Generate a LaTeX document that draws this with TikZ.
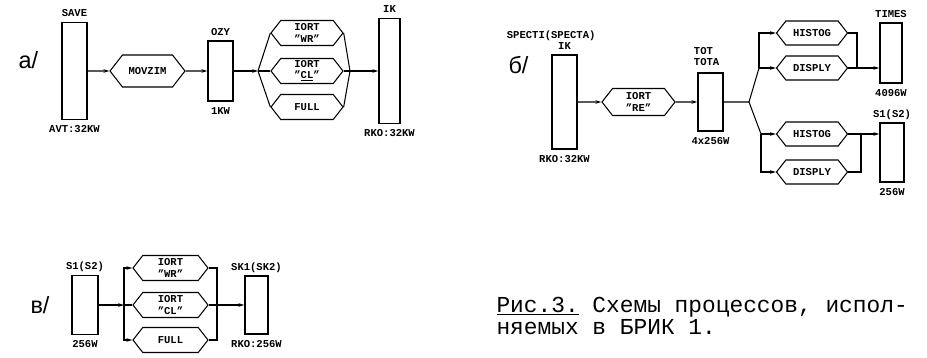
\documentclass[tikz,border=0pt]{standalone}
\usepackage{fontspec}
\setmainfont{Liberation Mono}
\newfontfamily\tagfont{Liberation Sans}
\newcommand\blkfont{\bfseries\fontsize{9}{9.5}\selectfont}
\usetikzlibrary{arrows.meta,positioning,shapes.symbols}

\begin{document}
\begin{tikzpicture}[x=0.3mm,y=-0.3mm,>={Stealth[length=5pt,width=3pt]},line width=0.9pt,
 box/.style={draw,line width=1.3pt,inner sep=0pt,minimum width=7.5mm},
 hexa/.style={draw,signal,signal to=east and west,signal pointer angle=104,inner sep=0pt,
   minimum width=21.6mm,minimum height=7.5mm,align=center,font=\blkfont},
 lab/.style={font=\blkfont,inner sep=1pt,text height=6pt,text depth=0pt},
 tag/.style={font=\tagfont\fontsize{20}{20}\selectfont,anchor=base west,inner sep=0pt}]
\useasboundingbox (0,0) rectangle (927,357);

% a/
\node[tag] (taga) at (18,68) {а/};
\node[box,minimum height=29.1mm] (save) at (74.5,71) {};
\node[lab,above=3pt of save] (savel) {SAVE};
\node[lab,below=3pt of save] (avt) {AVT:32KW};
\node[hexa,minimum width=22.5mm,minimum height=9.6mm] (movzim) at (147.5,71) {MOVZIM};
\node[box,minimum height=18mm] (ozy) at (220.5,71) {};
\node[lab,above=3pt of ozy] (ozyl) {OZY};
\node[lab,below=3pt of ozy] (ozyw) {1KW};
\node[hexa] (wra) at (307,33) {IORT\\"WR"};
\node[hexa] (cla) at (307,71) {IORT\\"\underline{CL}"};
\node[hexa] (fulla) at (307,107) {FULL};
\node[box,minimum width=6.3mm,minimum height=31.5mm] (ika) at (389.5,71) {};
\node[lab,above=3pt of ika] (ikal) {IK};
\node[lab,below=3pt of ika] (rkoa) {RKO:32KW};
\coordinate (afork) at (258,71);
\coordinate (ajoin) at (350,71);
\draw[->] (save) -- (movzim);
\draw[->] (movzim) -- (ozy);
\draw[->] (ozy) -- (afork);
\foreach \h in {wra,cla,fulla} \draw (afork) -- (\h.west) (\h.east) -- (ajoin);
\draw[->] (ajoin) -- (ika);

% b/
\node[tag] (tagb) at (508,73) {б/};
\node[box,minimum height=28.2mm] (spect) at (564.5,102) {};
\node[lab,above=3pt of spect] (spectik) {IK};
\node[lab,above=0pt of spectik,xshift=-4mm] (spectl) {SPECTI(SPECTA)};
\node[lab,below=3pt of spect] (rkob) {RKO:32KW};
\node[hexa,minimum width=21.9mm,minimum height=8.1mm] (re) at (638.5,102) {IORT\\"RE"};
\node[box,minimum height=17.4mm] (tot) at (710.5,102) {};
\node[lab,align=left,anchor=south west] (totl) at ([xshift=-1.5mm,yshift=4pt]tot.north west) {TOT\\TOTA};
\node[lab,below=3pt of tot] (totw) {4x256W};
\node[hexa,minimum width=21.3mm,minimum height=7.2mm] (hista) at (812,33) {HISTOG};
\node[hexa,minimum width=21.3mm,minimum height=7.2mm] (dispa) at (812,68) {DISPLY};
\node[hexa,minimum width=21.3mm,minimum height=7.2mm] (histb) at (812,134) {HISTOG};
\node[hexa,minimum width=21.3mm,minimum height=7.2mm] (dispb) at (812,172) {DISPLY};
\node[box,minimum width=6.6mm,minimum height=18mm] (times) at (891,53) {};
\node[lab,above=3pt of times] (timesl) {TIMES};
\node[lab,below=3pt of times] (timesw) {4096W};
\node[box,minimum width=7.2mm,minimum height=17.7mm] (s1b) at (892,152.5) {};
\node[lab,above=3pt of s1b] (s1bl) {S1(S2)};
\node[lab,below=3pt of s1b] (s1bw) {256W};
\coordinate (bfork) at (749,102);
\coordinate (bup) at (759,68);
\coordinate (bdown) at (761,134);
\coordinate (bjoina) at (857,68);
\coordinate (bjoinb) at (861,134);
\draw[->] (spect) -- (re);
\draw[->] (re) -- (tot);
\draw (tot) -- (bfork) -- (bup) (bfork) -- (bdown);
\draw[->] (bup) |- (hista.west);
\draw[->] (bup) -- (dispa.west);
\draw[->] (bdown) -- (histb.west);
\draw[->] (bdown) |- (dispb.west);
\draw (hista.east) -| (bjoina) -- (dispa.east);
\draw (dispb.east) -| (bjoinb) -- (histb.east);
\draw[->] (bjoina) -- (bjoina-|times.west);
\draw[->] (bjoinb) -- (bjoinb-|s1b.west);

% v/
\node[tag] (tagc) at (30,313) {в/};
\node[box,minimum width=7.8mm,minimum height=17.7mm] (s1c) at (85,305) {};
\node[lab,above=3pt of s1c] (s1cl) {S1(S2)};
\node[lab,below=3pt of s1c] (s1cw) {256W};
\node[hexa,minimum width=22.5mm] (wrc) at (170.5,268) {IORT\\"WR"};
\node[hexa,minimum width=22.5mm] (clc) at (170.5,305) {IORT\\"CL"};
\node[hexa,minimum width=22.5mm] (fullc) at (170.5,340) {FULL};
\node[box,minimum width=6.9mm,minimum height=17.4mm] (sk1) at (256.5,305) {};
\node[lab,above=3pt of sk1] (sk1l) {SK1(SK2)};
\node[lab,below=3pt of sk1] (rkoc) {RKO:256W};
\coordinate (cfork) at (124,305);
\coordinate (cjoin) at (217,305);
\draw[->] (s1c) -- (cfork);
\draw[->] (cfork) |- (wrc.west);
\draw[->] (cfork) |- (fullc.west);
\draw (cfork) -- (clc.west);
\draw (wrc.east) -| (cjoin) |- (fullc.east);
\draw (clc.east) -- (cjoin);
\draw[->] (cjoin) -- (sk1);

\node[anchor=north west,align=left,inner sep=0pt,font=\fontsize{19.5}{18.5}\selectfont] (caption) at (496,297)
 {\underline{Рис.3.} Схемы процессов, испол-\\няемых в БРИК 1.};
\end{tikzpicture}
\end{document}
